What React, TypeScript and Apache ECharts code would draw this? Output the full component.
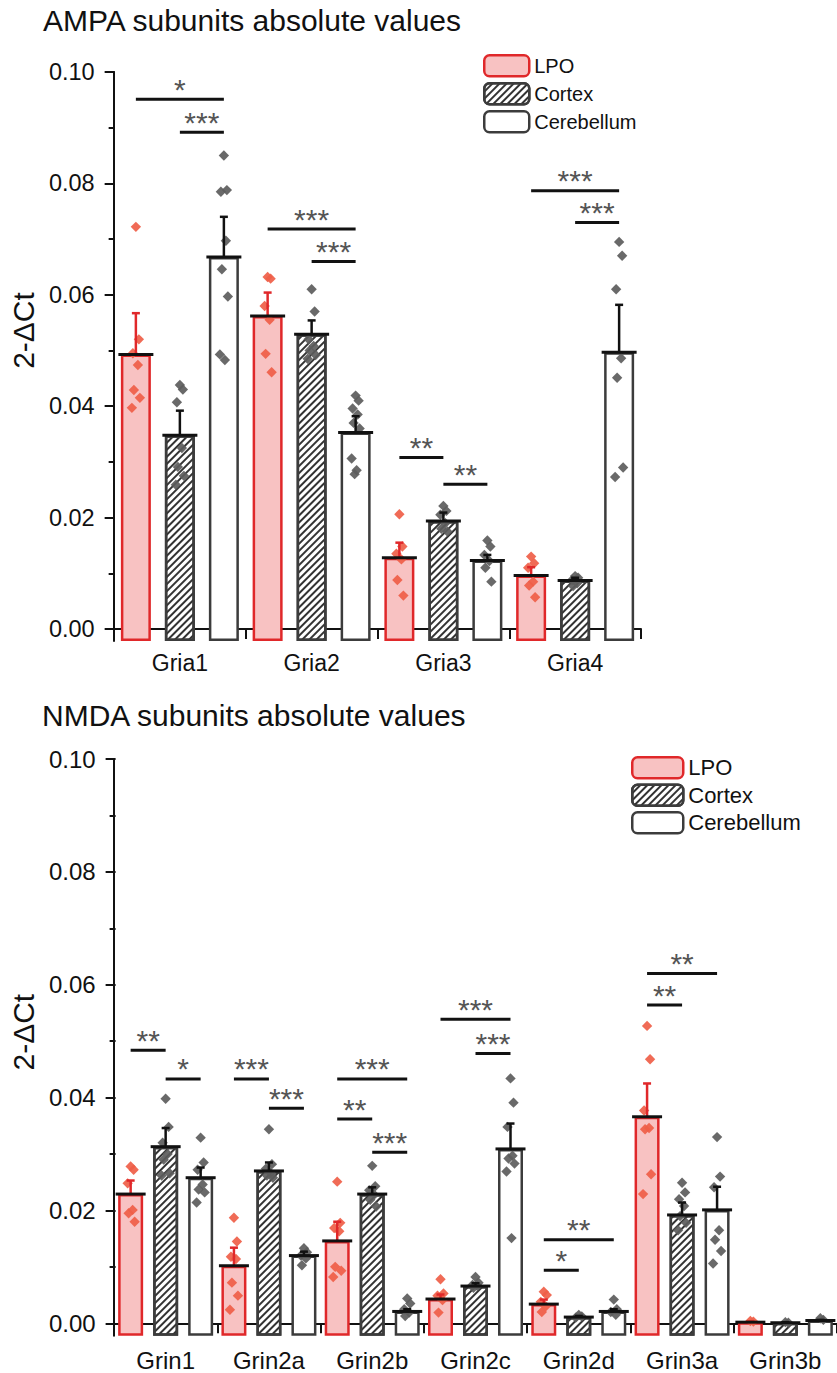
import React, { useEffect, useRef } from 'react';
import * as echarts from 'echarts';

const FONT = '"Liberation Sans", Arial, Helvetica, sans-serif';

// ---------------- AMPA (top panel) ----------------
const ampaCategories = ['Gria1', 'Gria2', 'Gria3', 'Gria4'];
const ampaLpoMean = [0.0493, 0.0562, 0.0128, 0.0096];
const ampaLpoSem = [0.0074, 0.0042, 0.0027, 0.0015];
const ampaCortexMean = [0.0348, 0.0529, 0.0194, 0.0087];
const ampaCortexSem = [0.0044, 0.0025, 0.0015, 0.0005];
const ampaCerebMean = [0.0668, 0.0353, 0.0123, 0.0497];
const ampaCerebSem = [0.0072, 0.0029, 0.001, 0.0085];

const ampaLpoPoints = [
  [0.0722, 0.052, 0.0495, 0.0474, 0.0429, 0.0415, 0.0397],
  [0.0632, 0.0629, 0.058, 0.0555, 0.0494, 0.0461],
  [0.0206, 0.0148, 0.0135, 0.0125, 0.0088, 0.006],
  [0.013, 0.0118, 0.011, 0.0085, 0.0078, 0.0057],
];
const ampaCortexPoints = [
  [0.0438, 0.043, 0.0407, 0.0325, 0.0291, 0.0275, 0.0259],
  [0.061, 0.057, 0.052, 0.0508, 0.05, 0.0492, 0.0485],
  [0.0221, 0.0212, 0.0205, 0.019, 0.018, 0.0175],
  [0.0095, 0.0092, 0.0088, 0.0082, 0.0077],
];
const ampaCerebPoints = [
  [0.085, 0.0788, 0.0785, 0.0697, 0.0646, 0.0597, 0.0493, 0.0483],
  [0.0419, 0.041, 0.0396, 0.0385, 0.037, 0.036, 0.0306, 0.0285, 0.0278],
  [0.0159, 0.0148, 0.0133, 0.0122, 0.011, 0.0085],
  [0.0695, 0.067, 0.061, 0.0486, 0.0451, 0.029, 0.0273],
];

const ampaSigCat = [0, 0, 1, 1, 2, 2, 3, 3];
const ampaSigFrom = [0, 1, 0, 1, 0, 1, 0, 1];
const ampaSigTo = [2, 2, 2, 2, 1, 2, 2, 2];
const ampaSigY = [0.0951, 0.0892, 0.0718, 0.066, 0.0308, 0.026, 0.0787, 0.073];
const ampaSigLabel = ['*', '***', '***', '***', '**', '**', '***', '***'];

// ---------------- NMDA (bottom panel) ----------------
const nmdaCategories = ['Grin1', 'Grin2a', 'Grin2b', 'Grin2c', 'Grin2d', 'Grin3a', 'Grin3b'];
const nmdaLpoMean = [0.0229, 0.0102, 0.0146, 0.0043, 0.0034, 0.0366, 0.0002];
const nmdaLpoSem = [0.0024, 0.0032, 0.0034, 0.0008, 0.0008, 0.0059, 0.0001];
const nmdaCortexMean = [0.0313, 0.027, 0.0229, 0.0066, 0.0011, 0.0192, 0.0001];
const nmdaCortexSem = [0.0033, 0.0015, 0.0012, 0.0005, 0.0002, 0.0022, 0.0001];
const nmdaCerebMean = [0.0258, 0.012, 0.0021, 0.0309, 0.0021, 0.0201, 0.0005];
const nmdaCerebSem = [0.0018, 0.0007, 0.0004, 0.0045, 0.0004, 0.0041, 0.0001];

const nmdaLpoPoints = [
  [0.0278, 0.0272, 0.0248, 0.0201, 0.0195, 0.018],
  [0.0187, 0.0145, 0.0118, 0.0114, 0.0072, 0.0049, 0.0024],
  [0.0251, 0.0178, 0.0169, 0.0163, 0.01, 0.0093, 0.0082],
  [0.0078, 0.0053, 0.0049, 0.0041, 0.0019],
  [0.0056, 0.005, 0.0038, 0.003, 0.002],
  [0.0527, 0.0468, 0.0377, 0.0346, 0.0344, 0.0264, 0.0229],
  [0.0004, 0.0003],
];
const nmdaCortexPoints = [
  [0.0398, 0.0348, 0.032, 0.03, 0.029, 0.0266, 0.0262],
  [0.0344, 0.0282, 0.0274, 0.0266, 0.0262, 0.0258],
  [0.0279, 0.0243, 0.0236, 0.0228, 0.0219, 0.0207],
  [0.0082, 0.0072, 0.0068, 0.0066, 0.0063],
  [0.0015, 0.0012, 0.001],
  [0.0249, 0.0232, 0.022, 0.0208, 0.019, 0.0178, 0.0165],
  [0.0002, 0.0001],
];
const nmdaCerebPoints = [
  [0.0329, 0.0285, 0.0272, 0.0246, 0.0237, 0.0232, 0.0214],
  [0.0133, 0.0126, 0.012, 0.0115, 0.0103],
  [0.0044, 0.0035, 0.0025, 0.0019, 0.0013],
  [0.0434, 0.0391, 0.0348, 0.0297, 0.0292, 0.0283, 0.0269, 0.0151],
  [0.0042, 0.0025, 0.002, 0.0015],
  [0.033, 0.026, 0.0241, 0.0165, 0.0148, 0.0128, 0.0106],
  [0.0009, 0.0006],
];

const nmdaSigCat = [0, 0, 1, 1, 2, 2, 2, 3, 3, 4, 4, 5, 5];
const nmdaSigFrom = [0, 1, 0, 1, 0, 0, 1, 0, 1, 0, 0, 0, 0];
const nmdaSigTo = [1, 2, 1, 2, 2, 1, 2, 2, 2, 2, 1, 2, 1];
const nmdaSigY = [0.0484, 0.0433, 0.0433, 0.0381, 0.0433, 0.0362, 0.0303, 0.0539, 0.0478, 0.0148, 0.0094, 0.062, 0.0564];
const nmdaSigLabel = ['**', '*', '***', '***', '***', '**', '***', '***', '***', '**', '*', '**', '**'];

const seriesNames = ['LPO', 'Cortex', 'Cerebellum'];
const yTickLabels = ['0.00', '0.02', '0.04', '0.06', '0.08', '0.10'];

// ---------------- styles ----------------
const RED = '#E0282A';
const PINK = '#F8C2C2';
const DARK = '#3C3C3C';
const DOT_RED = '#EF5E48';
const DOT_GRAY = '#5C5C5C';
const STAR = '#555555';
const JITTER = [0, 3, -3, 2, -2, 4, -4, 1, -1];

const HATCH = {
  symbol: 'rect',
  symbolSize: 1,
  dashArrayX: [1, 0],
  dashArrayY: [1.6, 2.6],
  rotation: -Math.PI / 4,
  color: '#333333',
  backgroundColor: '#ffffff',
};

type Panel = {
  cats: string[];
  means: number[][];
  sems: number[][];
  points: number[][][];
  sigCat: number[];
  sigFrom: number[];
  sigTo: number[];
  sigY: number[];
  sigLabel: string[];
  left: number;
  top: number;
  width: number;
  zeroY: number;
  axisY: number;
  barWidth: number;
  pitch: number;
  labelSize: number;
  catLabelSize: number;
  catMargin: number;
  namePad: number;
};

const panels: Panel[] = [
  {
    cats: ampaCategories,
    means: [ampaLpoMean, ampaCortexMean, ampaCerebMean],
    sems: [ampaLpoSem, ampaCortexSem, ampaCerebSem],
    points: [ampaLpoPoints, ampaCortexPoints, ampaCerebPoints],
    sigCat: ampaSigCat,
    sigFrom: ampaSigFrom,
    sigTo: ampaSigTo,
    sigY: ampaSigY,
    sigLabel: ampaSigLabel,
    left: 114,
    top: 72,
    width: 527,
    zeroY: 629,
    axisY: 641,
    barWidth: 30,
    pitch: 44,
    labelSize: 23.5,
    catLabelSize: 23,
    catMargin: 10,
    namePad: 40,
  },
  {
    cats: nmdaCategories,
    means: [nmdaLpoMean, nmdaCortexMean, nmdaCerebMean],
    sems: [nmdaLpoSem, nmdaCortexSem, nmdaCerebSem],
    points: [nmdaLpoPoints, nmdaCortexPoints, nmdaCerebPoints],
    sigCat: nmdaSigCat,
    sigFrom: nmdaSigFrom,
    sigTo: nmdaSigTo,
    sigY: nmdaSigY,
    sigLabel: nmdaSigLabel,
    left: 114,
    top: 759,
    width: 729.6,
    zeroY: 1323.3,
    axisY: 1335.7,
    barWidth: 25,
    pitch: 35,
    labelSize: 24,
    catLabelSize: 24,
    catMargin: 13,
    namePad: 18,
  },
];

function buildOption() {
  const grid: any[] = [];
  const xAxis: any[] = [];
  const yAxis: any[] = [];
  const series: any[] = [];

  panels.forEach((p, pi) => {
    const dataGrid = pi * 2;
    const tickGrid = pi * 2 + 1;
    const pxPerUnit = (p.zeroY - p.top) / 0.1;
    const dataMin = -(p.axisY - p.zeroY) / pxPerUnit;

    grid.push({ left: p.left, top: p.top, width: p.width, height: p.axisY - p.top, containLabel: false });
    grid.push({ left: p.left, top: p.top, width: p.width, height: p.zeroY - p.top, containLabel: false });

    xAxis.push({
      gridIndex: dataGrid,
      type: 'category',
      data: p.cats,
      boundaryGap: true,
      axisLine: { show: true, lineStyle: { color: '#111', width: 2 } },
      axisTick: { show: true, length: 10, lineStyle: { color: '#111', width: 2 } },
      axisLabel: { color: '#111', fontSize: p.catLabelSize, fontFamily: FONT, margin: p.catMargin },
      splitLine: { show: false },
    });
    xAxis.push({ gridIndex: tickGrid, type: 'value', show: false, min: 0, max: 1 });

    yAxis.push({
      gridIndex: dataGrid,
      type: 'value',
      min: dataMin,
      max: 0.1,
      startValue: dataMin,
      axisLine: { show: true, lineStyle: { color: '#111', width: 2 } },
      axisTick: { show: false },
      axisLabel: { show: false },
      splitLine: { show: false },
    });
    yAxis.push({
      gridIndex: tickGrid,
      type: 'value',
      min: 0,
      max: 0.1,
      interval: 0.02,
      name: '2-ΔCt',
      nameLocation: 'middle',
      nameGap: 73,
      nameTextStyle: { fontSize: 30, color: '#111', fontFamily: FONT, padding: [0, 0, 0, p.namePad] },
      axisLine: { show: false },
      axisTick: { show: true, inside: false, length: 10, lineStyle: { color: '#111', width: 2 } },
      minorTick: { show: true, splitNumber: 2, length: 6, lineStyle: { color: '#111', width: 2 } },
      axisLabel: {
        color: '#111',
        fontSize: p.labelSize,
        fontFamily: FONT,
        margin: 20,
        formatter: (v: number) => yTickLabels[Math.round(v / 0.02)] ?? '',
      },
      splitLine: { show: false },
    });

    const gap = ((p.pitch - p.barWidth) / p.barWidth) * 100 + '%';
    const styles = [
      { color: PINK, borderColor: RED, borderWidth: 2.5 },
      { color: '#ffffff', borderColor: DARK, borderWidth: 2.5, decal: HATCH },
      { color: '#ffffff', borderColor: DARK, borderWidth: 2.5 },
    ];

    seriesNames.forEach((name, s) => {
      series.push({
        type: 'bar',
        name,
        xAxisIndex: dataGrid,
        yAxisIndex: dataGrid,
        data: p.means[s],
        barWidth: p.barWidth,
        barGap: gap,
        startValue: dataMin,
        itemStyle: styles[s],
        z: 2,
        silent: true,
      });
    });

    seriesNames.forEach((name, s) => {
      const pts: number[][] = [];
      p.points[s].forEach((arr, ci) => arr.forEach((v, j) => pts.push([ci, v, j])));
      series.push({
        type: 'custom',
        name: name + ' points',
        xAxisIndex: dataGrid,
        yAxisIndex: dataGrid,
        data: pts,
        encode: { x: 0, y: 1 },
        clip: false,
        z: 3,
        silent: true,
        renderItem: (params: any, api: any) => {
          const c = api.coord([api.value(0), api.value(1)]);
          const x = c[0] + (s - 1) * p.pitch + JITTER[api.value(2) % JITTER.length];
          const y = c[1];
          const r = 5.2;
          return {
            type: 'polygon',
            shape: { points: [[x, y - r], [x + r, y], [x, y + r], [x - r, y]] },
            style: { fill: s === 0 ? DOT_RED : DOT_GRAY, opacity: 0.92 },
          };
        },
      });
    });

    seriesNames.forEach((name, s) => {
      const ed = p.means[s].map((m, i) => [i, m, p.sems[s][i]]);
      const col = s === 0 ? RED : '#111';
      series.push({
        type: 'custom',
        name: name + ' error',
        xAxisIndex: dataGrid,
        yAxisIndex: dataGrid,
        data: ed,
        encode: { x: 0, y: 1 },
        clip: false,
        z: 4,
        silent: true,
        renderItem: (params: any, api: any) => {
          const cat = api.value(0);
          const mean = api.value(1);
          const sem = api.value(2);
          const b = api.coord([cat, mean]);
          const t = api.coord([cat, mean + sem]);
          const x = b[0] + (s - 1) * p.pitch;
          const half = p.barWidth / 2 + 2.5;
          return {
            type: 'group',
            children: [
              { type: 'line', shape: { x1: x, y1: b[1], x2: x, y2: t[1] }, style: { stroke: col, lineWidth: 2.5 } },
              { type: 'line', shape: { x1: x - 4, y1: t[1], x2: x + 4, y2: t[1] }, style: { stroke: col, lineWidth: 2.5 } },
              { type: 'line', shape: { x1: x - half, y1: b[1], x2: x + half, y2: b[1] }, style: { stroke: '#111', lineWidth: 3 } },
            ],
          };
        },
      });
    });

    const sd = p.sigCat.map((c, i) => [c, p.sigY[i], p.sigFrom[i], p.sigTo[i], i]);
    series.push({
      type: 'custom',
      name: 'significance',
      xAxisIndex: dataGrid,
      yAxisIndex: dataGrid,
      data: sd,
      encode: { x: 0, y: 1 },
      clip: false,
      z: 5,
      silent: true,
      renderItem: (params: any, api: any) => {
        const c = api.coord([api.value(0), api.value(1)]);
        const x1 = c[0] + (api.value(2) - 1) * p.pitch;
        const x2 = c[0] + (api.value(3) - 1) * p.pitch;
        const label = p.sigLabel[api.value(4)];
        return {
          type: 'group',
          children: [
            { type: 'line', shape: { x1, y1: c[1], x2, y2: c[1] }, style: { stroke: '#111', lineWidth: 3 } },
            {
              type: 'text',
              x: (x1 + x2) / 2,
              y: c[1] - 10,
              style: {
                text: label,
                fill: STAR,
                font: '30px ' + FONT,
                align: 'center',
                verticalAlign: 'middle',
              },
            },
          ],
        };
      },
    });
  });

  return {
    animation: false,
    backgroundColor: '#ffffff',
    textStyle: { fontFamily: FONT },
    title: [
      { text: 'AMPA subunits absolute values', left: 43, top: 5, padding: 0, textStyle: { fontSize: 30, fontWeight: 'normal', color: '#111', fontFamily: FONT } },
      { text: 'NMDA subunits absolute values', left: 42, top: 700, padding: 0, textStyle: { fontSize: 30, fontWeight: 'normal', color: '#111', fontFamily: FONT } },
    ],
    legend: [
      {
        data: seriesNames,
        orient: 'vertical',
        left: 483,
        top: 54,
        padding: 0,
        itemWidth: 45,
        itemHeight: 21,
        itemGap: 4.5,
        selectedMode: false,
        itemStyle: { borderWidth: 2.5 },
        textStyle: { fontSize: 20, color: '#111', fontFamily: FONT, lineHeight: 21 },
      },
      {
        data: seriesNames,
        orient: 'vertical',
        left: 631,
        top: 756,
        padding: 0,
        itemWidth: 51,
        itemHeight: 21,
        itemGap: 4,
        selectedMode: false,
        itemStyle: { borderWidth: 2.5 },
        textStyle: { fontSize: 22, color: '#111', fontFamily: FONT, lineHeight: 21 },
      },
    ],
    grid,
    xAxis,
    yAxis,
    series,
  };
}

export default function App() {
  const ref = useRef<HTMLDivElement>(null);
  useEffect(() => {
    if (!ref.current) return;
    const chart = echarts.init(ref.current, undefined, { renderer: 'svg' });
    chart.setOption(buildOption() as any);
    return () => chart.dispose();
  }, []);
  return (
    <div
      ref={ref}
      style={{ position: 'absolute', left: 0, top: 0, width: 837, height: 1373, background: '#fff' }}
    />
  );
}
